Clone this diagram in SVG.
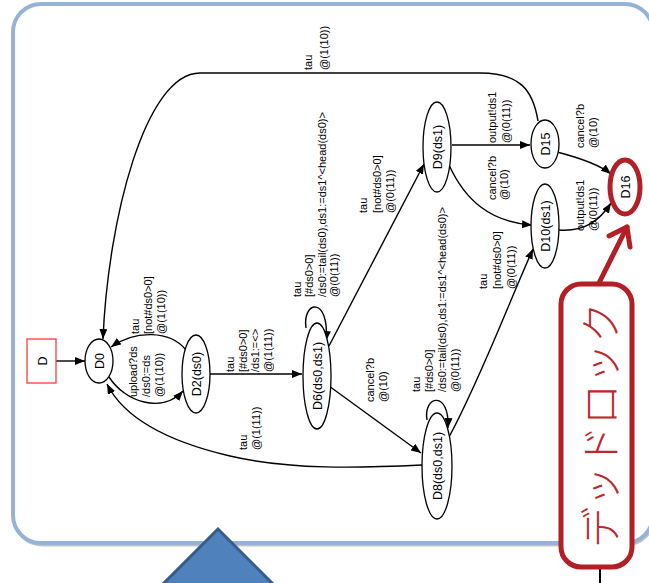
<svg xmlns="http://www.w3.org/2000/svg" width="649" height="583" viewBox="0 0 649 583">
  <style>
    .node ellipse { fill: #ffffff; stroke: #000000; stroke-width: 1.3; }
    .node text { font-family: "Liberation Sans", Arial, sans-serif; font-size: 12.5px; fill: #000000; text-anchor: middle; }
    .edge { fill: none; stroke: #000000; stroke-width: 1.4; marker-end: url(#arrow); }
    .lbl { font-family: "Liberation Sans", Arial, sans-serif; font-size: 11px; fill: #000000; }
    .callout { fill: none; stroke: #b31f27; stroke-width: 5; stroke-linecap: round; stroke-linejoin: round; }
  </style>
  <defs>
    <marker id="arrow" viewBox="0 0 10 8" refX="10" refY="4" markerWidth="10" markerHeight="8" markerUnits="userSpaceOnUse" orient="auto">
      <path d="M0,0 L10,4 L0,8 Z" fill="#000000"/>
    </marker>
  </defs>

  <rect width="649" height="583" fill="#ffffff"/>

  <!-- slide frame -->
  <rect x="14" y="6" width="640" height="539" rx="28" fill="none" stroke="#c4c4c4" stroke-width="3"/>
  <rect x="13" y="4" width="640" height="539" rx="28" fill="#ffffff" stroke="#95b3d7" stroke-width="4"/>

  <!-- connectors -->
  <g id="edges">
    <path class="edge" d="M56,361 L85,361"/>
    <path class="edge" d="M109,377 C125,402 162,414 183,391"/>
    <path class="edge" d="M186,350 C170,330 135,330 111,347"/>
    <path class="edge" d="M538,121 C533,90 520,73 480,73 L200,73 C145,73 108,220 103,339"/>
    <path class="edge" d="M422,465 C360,468 290,470 230,456 C170,442 125,420 107,384"/>
    <path class="edge" d="M210,374 L302,374"/>
    <path class="edge" d="M306,328 C302,300 330,296 326,341"/>
    <path class="edge" d="M329,346 L424,164"/>
    <path class="edge" d="M329,386 L421,453"/>
    <path class="edge" d="M427,420 C423,395 450,390 448,428"/>
    <path class="edge" d="M449,437 C480,380 510,300 533,249"/>
    <path class="edge" d="M452,145 L530,145"/>
    <path class="edge" d="M449,165 C465,200 490,222 532,225"/>
    <path class="edge" d="M557,152 C580,158 600,165 611,174"/>
    <path class="edge" d="M559,230 C585,232 600,220 611,203"/>

    <!-- transition labels -->
    <text class="lbl" transform="translate(139,334) rotate(-90)"><tspan x="0">tau</tspan><tspan x="0" dy="13">[not#ds0&gt;0]</tspan><tspan x="0" dy="13">@(1(10))</tspan></text>
    <text class="lbl" transform="translate(137,397) rotate(-90)"><tspan x="0">upload?ds</tspan><tspan x="0" dy="13">/ds0:=ds</tspan><tspan x="0" dy="13">@(1(10))</tspan></text>
    <text class="lbl" transform="translate(234,372) rotate(-90)"><tspan x="0">tau</tspan><tspan x="0" dy="12.7">[#ds0&gt;0]</tspan><tspan x="0" dy="12.7">/ds1:=&lt;&gt;</tspan><tspan x="0" dy="12.7">@(1(11))</tspan></text>
    <text class="lbl" transform="translate(301,297) rotate(-90)"><tspan x="0">tau</tspan><tspan x="0" dy="12">[#ds0&gt;0]</tspan><tspan x="0" dy="12.5">/ds0:=tail(ds0),ds1:=ds1^&lt;head(ds0)&gt;</tspan><tspan x="0" dy="12.5">@(0(11))</tspan></text>
    <text class="lbl" transform="translate(367,213) rotate(-90)"><tspan x="0">tau</tspan><tspan x="0" dy="13.5">[not#ds0&gt;0]</tspan><tspan x="0" dy="13.5">@(0(11))</tspan></text>
    <text class="lbl" transform="translate(374,402) rotate(-90)"><tspan x="0">cancel?b</tspan><tspan x="0" dy="12.5">@(10)</tspan></text>
    <text class="lbl" transform="translate(420,392) rotate(-90)"><tspan x="0">tau</tspan><tspan x="0" dy="13">[#ds0&gt;0]</tspan><tspan x="0" dy="13">/ds0:=tail(ds0),ds1:=ds1^&lt;head(ds0)&gt;</tspan><tspan x="0" dy="13">@(0(11))</tspan></text>
    <text class="lbl" transform="translate(487,289) rotate(-90)"><tspan x="0">tau</tspan><tspan x="0" dy="14">[not#ds0&gt;0]</tspan><tspan x="0" dy="14">@(0(11))</tspan></text>
    <text class="lbl" transform="translate(496,143) rotate(-90)"><tspan x="0">output!ds1</tspan><tspan x="0" dy="14">@(0(11))</tspan></text>
    <text class="lbl" transform="translate(496,200) rotate(-90)"><tspan x="0">cancel?b</tspan><tspan x="0" dy="12">@(10)</tspan></text>
    <text class="lbl" transform="translate(584,148) rotate(-90)"><tspan x="0">cancel?b</tspan><tspan x="0" dy="13">@(10)</tspan></text>
    <text class="lbl" transform="translate(584,231) rotate(-90)"><tspan x="0">output!ds1</tspan><tspan x="0" dy="13">@(0(11))</tspan></text>
    <text class="lbl" transform="translate(247,450) rotate(-90)"><tspan x="0">tau</tspan><tspan x="0" dy="12.5">@(1(11))</tspan></text>
    <text class="lbl" transform="translate(312,70) rotate(-90)"><tspan x="0">tau</tspan><tspan x="0" dy="16">@(1(10))</tspan></text>
  </g>

  <!-- states -->
  <g id="D" class="node">
    <rect x="27" y="339" width="29" height="44" fill="#ffffff" stroke="#ff3b3b" stroke-width="1.3"/>
    <text transform="translate(46.5,361) rotate(-90)">D</text>
  </g>
  <g id="D0" class="node">
    <ellipse cx="99" cy="361" rx="14" ry="22"/>
    <text transform="translate(103.5,361) rotate(-90)">D0</text>
  </g>
  <g id="D2" class="node">
    <ellipse cx="196" cy="374" rx="14" ry="39"/>
    <text transform="translate(200.5,374) rotate(-90)">D2(ds0)</text>
  </g>
  <g id="D6" class="node">
    <ellipse cx="317" cy="376" rx="14" ry="53"/>
    <text transform="translate(321.5,376) rotate(-90)">D6(ds0,ds1)</text>
  </g>
  <g id="D8" class="node">
    <ellipse cx="437" cy="466" rx="15" ry="53"/>
    <text transform="translate(441.5,466) rotate(-90)">D8(ds0,ds1)</text>
  </g>
  <g id="D9" class="node">
    <ellipse cx="437" cy="147" rx="14" ry="45"/>
    <text transform="translate(441.5,147) rotate(-90)">D9(ds1)</text>
  </g>
  <g id="D10" class="node">
    <ellipse cx="545" cy="226" rx="14" ry="42"/>
    <text transform="translate(549.5,226) rotate(-90)">D10(ds1)</text>
  </g>
  <g id="D15" class="node">
    <ellipse cx="545" cy="144" rx="14" ry="24"/>
    <text transform="translate(549.5,144) rotate(-90)">D15</text>
  </g>
  <g id="D16" class="node">
    <ellipse cx="625" cy="187" rx="15" ry="27"/>
    <text transform="translate(630,187) rotate(-90)">D16</text>
  </g>

  <!-- highlight: deadlock state -->
  <ellipse cx="625" cy="187" rx="15" ry="27" class="callout"/>
  <line x1="600" y1="568" x2="600" y2="583" stroke="#000000" stroke-width="2"/>
  <rect x="561" y="284" width="71" height="283" rx="20" fill="#ffffff" stroke="#b31f27" stroke-width="5"/>
  <text transform="translate(598,425) rotate(-90)" font-family="'Noto Sans CJK JP', sans-serif" font-size="41" font-weight="300" fill="#c0262d" text-anchor="middle" dominant-baseline="central">デッドロック</text>
  <line x1="599" y1="283" x2="627" y2="227" class="callout"/>
  <polyline points="609,236 627,227 630,247" class="callout"/>

  <!-- pointer shape at the bottom -->
  <polygon points="218,529 161,586 275,586" fill="#4f81bd" stroke="#385d8a" stroke-width="3"/>
</svg>
